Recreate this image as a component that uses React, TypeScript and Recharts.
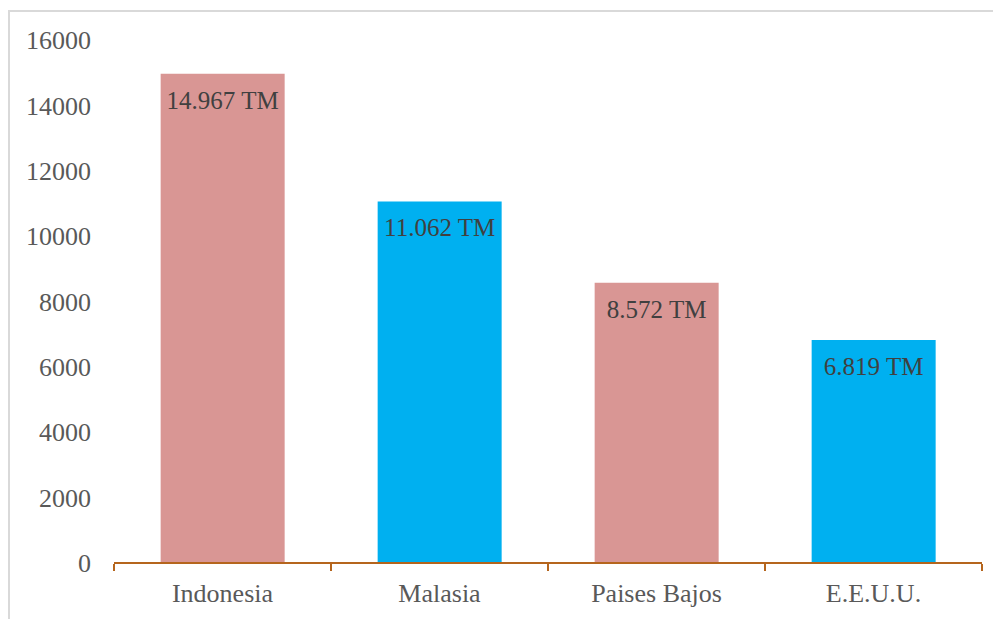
import { BarChart, Bar, XAxis, YAxis, Cell, LabelList } from 'recharts';

const countries = ['Indonesia', 'Malasia', 'Paises Bajos', 'E.E.U.U.'];
const tonnes = [14967, 11062, 8572, 6819];
const barColors = ['#D99694', '#00B0F0', '#D99694', '#00B0F0'];
const yTicks = [0, 2000, 4000, 6000, 8000, 10000, 12000, 14000, 16000];
const edgeTicks = [0, 1, 2, 3, 4];

const FONT = '"Liberation Serif", serif';
const AXIS_COLOR = '#B5651D';

const chartData = countries.map((name, i) => ({ name, value: tonnes[i], edge: i + 0.5 }));

const formatTM = (v: number) => String(v).replace(/\B(?=(\d{3})+(?!\d))/g, '.') + ' TM';

export default function App() {
  return (
    <div style={{ position: 'relative', width: 993, height: 611, fontFamily: FONT }}>
      <div
        style={{
          position: 'absolute',
          left: 0,
          top: 2,
          width: 1000,
          height: 700,
          border: '2px solid #D9D9D9',
          boxSizing: 'border-box',
        }}
      />
      <BarChart
        width={993}
        height={611}
        data={chartData}
        margin={{ top: 32, right: 19, left: 0, bottom: 54 }}
        barCategoryGap="21.5%"
        style={{ position: 'absolute', left: 0, top: 0 }}
      >
        <XAxis
          dataKey="name"
          height={1}
          axisLine={{ stroke: AXIS_COLOR, strokeWidth: 2 }}
          tickLine={false}
          tickSize={0}
          tickMargin={21}
          tick={{ fill: '#595959', fontSize: 26, fontFamily: FONT }}
        />
        <XAxis
          xAxisId="edges"
          type="number"
          dataKey="edge"
          domain={[0, 4]}
          ticks={edgeTicks}
          height={1}
          tickSize={7}
          tick={() => <g />}
          axisLine={false}
          tickLine={{ stroke: AXIS_COLOR, strokeWidth: 2 }}
          allowDataOverflow
        />
        <YAxis
          width={106}
          domain={[0, 16000]}
          ticks={yTicks}
          axisLine={false}
          tickLine={false}
          tickSize={0}
          tickMargin={23}
          tick={{ fill: '#595959', fontSize: 26, fontFamily: FONT }}
        />
        <Bar dataKey="value" isAnimationActive={false}>
          {chartData.map((d, i) => (
            <Cell key={d.name} fill={barColors[i]} />
          ))}
          <LabelList
            dataKey="value"
            position="insideTop"
            offset={17}
            formatter={(v: any) => formatTM(Number(v))}
            style={{ fill: '#404040', fontSize: 25, fontFamily: FONT }}
          />
        </Bar>
      </BarChart>
    </div>
  );
}
